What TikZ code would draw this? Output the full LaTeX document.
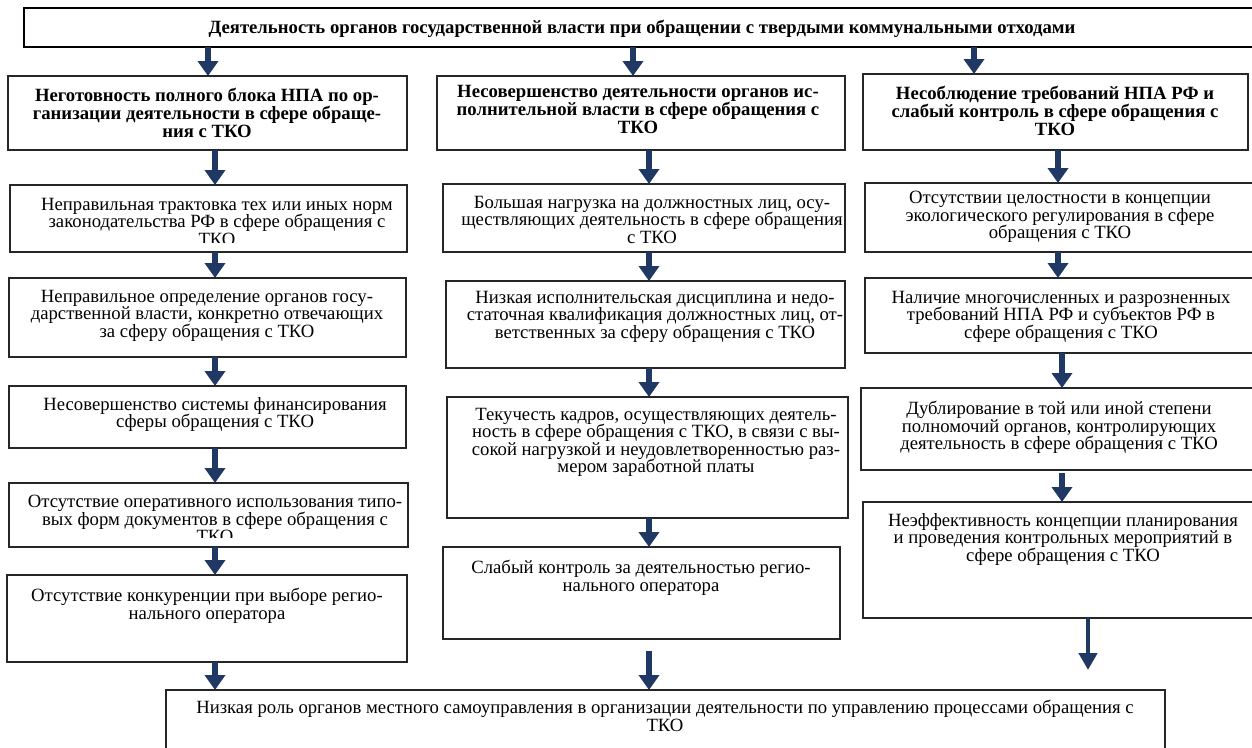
\documentclass[tikz,border=0pt]{standalone}
\usepackage{fontspec}
\setmainfont{Liberation Serif}
\usetikzlibrary{arrows.meta,calc}
\definecolor{navy}{RGB}{31,56,100}
\newcommand\mkbox[6][box]{\node[#1,minimum width={#5pt-#3pt},minimum height={#6pt-#4pt}] (#2) at (#3,#4) {};}
\begin{document}
\begin{tikzpicture}[x=1pt,y=-1pt,
  box/.style={draw=black!85,line width=1.2pt,anchor=north west,inner sep=0pt,outer sep=0pt},
  titlebox/.style={box,draw=black,line width=2.4pt},
  txt/.style={anchor=north,align=center,inner sep=0pt,font=\fontsize{18.7}{17.5}\selectfont},
  htxt/.style={anchor=north,align=center,inner sep=0pt,font=\fontsize{18.7}{17.2}\selectfont\bfseries},
  arr/.style={draw=navy,line width=6pt,-{Triangle[width=20pt,length=15pt]}},
  arrthin/.style={draw=navy,line width=4.5pt,-{Triangle[width=18pt,length=17pt]}}]
\useasboundingbox (0,0) rectangle (1252,747);
\clip (0,0) rectangle (1252,747);
\fill[white] (0,0) rectangle (1252,747);

% boxes
\mkbox[titlebox]{title}{24}{8}{1264}{47}
\mkbox{h1}{8}{76}{407}{150}
\mkbox{h2}{437}{76}{845}{150}
\mkbox{h3}{863}{74}{1248}{150}
\mkbox{b11}{10}{185}{407}{252}
\mkbox{b12}{9}{278}{406}{357}
\mkbox{b13}{9}{386}{406}{448}
\mkbox{b14}{9}{483}{408}{547}
\mkbox{b15}{7}{575}{407}{662}
\mkbox{b21}{443}{184}{845}{252}
\mkbox{b22}{446}{281}{845}{368}
\mkbox{b23}{447}{397}{848}{518}
\mkbox{b24}{443}{547}{840}{639}
\mkbox{b31}{865}{183}{1260}{252}
\mkbox{b32}{865}{278}{1260}{353}
\mkbox{b33}{861}{388}{1260}{470}
\mkbox{b34}{863}{502}{1260}{618}
\mkbox{bot}{166}{690}{1165}{765}

% texts
\node[htxt] (ttitle) at (642,20) {Деятельность органов государственной власти при обращении с твердыми коммунальными отходами};
\node[htxt] (th1) at (207,88) {Неготовность полного блока НПА по ор-\\ганизации деятельности в сфере обраще-\\ния с ТКО};
\node[htxt] (th2) at (638,85) {Несовершенство деятельности органов ис-\\полнительной власти в сфере обращения с\\ТКО};
\node[htxt] (th3) at (1055,86) {Несоблюдение требований НПА РФ и\\слабый контроль в сфере обращения с\\ТКО};

\begin{scope}
\clip (10,185) rectangle (407,242);
\node[txt] (t11) at (217,198) {Неправильная трактовка тех или иных норм\\законодательства РФ в сфере обращения с\\ТКО};
\end{scope}
\node[txt] (t12) at (207,290) {Неправильное определение органов госу-\\дарственной власти, конкретно отвечающих\\за сферу обращения с ТКО};
\node[txt] (t13) at (215,397) {Несовершенство системы финансирования\\сферы обращения с ТКО};
\begin{scope}
\clip (9,483) rectangle (408,537);
\node[txt] (t14) at (215,495) {Отсутствие оперативного использования типо-\\вых форм документов в сфере обращения с\\ТКО};
\end{scope}
\node[txt] (t15) at (207,588) {Отсутствие конкуренции при выборе регио-\\нального оператора};

\node[txt] (t21) at (652,196) {Большая нагрузка на должностных лиц, осу-\\ществляющих деятельность в сфере обращения\\с ТКО};
\node[txt] (t22) at (655,291) {Низкая исполнительская дисциплина и недо-\\статочная квалификация должностных лиц, от-\\ветственных за сферу обращения с ТКО};
\node[txt] (t23) at (656,408) {Текучесть кадров, осуществляющих деятель-\\ность в сфере обращения с ТКО, в связи с вы-\\сокой нагрузкой и неудовлетворенностью раз-\\мером заработной платы};
\node[txt] (t24) at (641,560) {Слабый контроль за деятельностью регио-\\нального оператора};

\node[txt] (t31) at (1060,191) {Отсутствии целостности в концепции\\экологического регулирования в сфере\\обращения с ТКО};
\node[txt] (t32) at (1061,291) {Наличие многочисленных и разрозненных\\требований НПА РФ и субъектов РФ в\\сфере обращения с ТКО};
\node[txt] (t33) at (1059,401) {Дублирование в той или иной степени\\полномочий органов, контролирующих\\деятельность в сфере обращения с ТКО};
\node[txt] (t34) at (1063,513) {Неэффективность концепции планирования\\и проведения контрольных мероприятий в\\сфере обращения с ТКО};

\node[txt] (tbot) at (665,700) {Низкая роль органов местного самоуправления в организации деятельности по управлению процессами обращения с\\ТКО};

% arrow columns
\coordinate (x1a) at (208,0);
\coordinate (x1) at (215,0);
\coordinate (x2a) at (633,0);
\coordinate (x2) at (649,0);
\coordinate (x3a) at (974,0);
\coordinate (x3) at (1058,0);
\coordinate (x3b) at (1062,0);
\coordinate (s24) at (649,651);
\coordinate (s33) at (1062,473);
\coordinate (e34) at (1088,670);

\draw[arr] (title.south -| x1a) -- (h1.north -| x1a);
\draw[arr] (title.south -| x2a) -- (h2.north -| x2a);
\draw[arr] (title.south -| x3a) -- (h3.north -| x3a);

\draw[arr] (h1.south -| x1) -- (b11.north -| x1);
\draw[arr] (b11.south -| x1) -- (b12.north -| x1);
\draw[arr] (b12.south -| x1) -- (b13.north -| x1);
\draw[arr] (b13.south -| x1) -- (b14.north -| x1);
\draw[arr] (b14.south -| x1) -- (b15.north -| x1);
\draw[arr] (b15.south -| x1) -- (bot.north -| x1);

\draw[arr] (h2.south -| x2) -- (b21.north -| x2);
\draw[arr] (b21.south -| x2) -- (b22.north -| x2);
\draw[arr] (b22.south -| x2) -- (b23.north -| x2);
\draw[arr] (b23.south -| x2) -- (b24.north -| x2);
\draw[arr] (s24) -- (bot.north -| s24);

\draw[arr] (h3.south -| x3) -- (b31.north -| x3);
\draw[arr] (b31.south -| x3) -- (b32.north -| x3);
\draw[arr] (b32.south -| x3b) -- (b33.north -| x3b);
\draw[arr] (s33) -- (b34.north -| s33);
\draw[arrthin] (b34.south -| e34) -- (e34);
\end{tikzpicture}
\end{document}
